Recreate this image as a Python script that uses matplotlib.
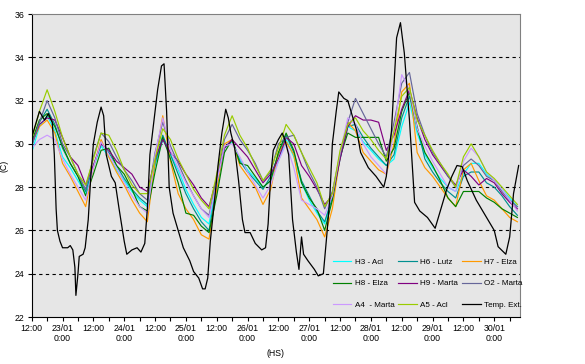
"""
Indoor / outdoor temperature log, 22/01 12:00 to 30/01
"""
import numpy as np
import matplotlib.pyplot as plt

plt.rcParams['font.family'] = ['Liberation Sans', 'DejaVu Sans']

# hours after 22/01 12:00, one reading every 3 h for the room sensors
hours = np.arange(0, 190, 3)

h3_acl = [29.6, 30.8, 31.3, 30.6, 29.4, 28.9, 28.3, 27.7, 28.9, 29.9, 29.4, 28.8, 28.3, 27.8, 27.4, 27.1,
          29.0, 30.2, 29.5, 28.8, 27.9, 27.2, 26.6, 26.3, 28.2, 29.8, 30.1, 29.3, 28.8, 28.4, 28.0, 28.3,
          29.2, 30.2, 29.4, 28.2, 27.4, 26.8, 26.3, 27.6, 29.4, 30.8, 30.6, 30.1, 29.7, 29.3, 29.0, 29.3,
          30.8, 31.9, 30.5, 29.5, 28.9, 28.4, 28.0, 27.8, 28.6, 29.1, 29.1, 28.6, 28.3, 27.9, 27.5, 27.1]
h6_lutz = [29.9, 31.0, 31.6, 30.9, 29.8, 29.1, 28.5, 27.8, 29.0, 30.0, 29.6, 29.0, 28.4, 27.9, 27.5, 27.2,
           29.1, 30.4, 29.5, 28.6, 27.7, 27.0, 26.4, 26.0, 28.0, 29.8, 30.2, 29.2, 28.7, 28.3, 27.9, 28.5,
           29.5, 30.4, 29.6, 28.3, 27.6, 26.9, 26.4, 27.5, 29.3, 30.8, 30.9, 30.3, 29.8, 29.4, 29.0, 29.5,
           31.2, 32.2, 30.8, 29.3, 28.7, 28.2, 27.8, 27.5, 28.5, 28.7, 28.7, 28.2, 28.0, 27.6, 27.1, 26.7]
h7_elza = [30.0, 30.8, 31.1, 30.5, 29.1, 28.5, 27.8, 27.1, 28.9, 30.2, 29.4, 28.7, 28.1, 27.4, 26.8, 26.4,
           29.2, 31.3, 29.2, 27.7, 27.0, 26.5, 25.8, 25.6, 27.9, 30.0, 30.2, 29.0, 28.5, 28.0, 27.2, 27.9,
           29.6, 30.1, 29.5, 27.5, 27.0, 26.5, 25.7, 27.0, 29.4, 31.0, 30.6, 29.6, 29.2, 28.8, 28.6, 30.0,
           32.4, 32.8, 29.6, 28.9, 28.5, 28.0, 27.5, 27.1, 28.8, 29.1, 28.3, 27.6, 27.4, 27.0, 26.6, 26.4]
h8_elza = [30.1, 31.1, 31.4, 30.8, 29.9, 29.1, 28.5, 27.6, 28.6, 29.7, 29.8, 29.0, 28.6, 27.9, 27.1, 26.9,
           28.7, 30.3, 29.3, 28.2, 26.8, 26.7, 26.2, 25.9, 27.6, 29.6, 30.2, 29.1, 29.0, 28.5, 28.0, 28.3,
           29.6, 30.5, 29.7, 28.2, 27.5, 27.0, 26.0, 27.4, 29.4, 30.5, 30.3, 30.3, 30.3, 30.3, 29.2, 29.8,
           31.5, 32.4, 30.7, 29.6, 29.0, 28.3, 27.5, 27.1, 27.8, 27.8, 27.8, 27.5, 27.3, 27.0, 26.8, 26.6]
h9_marta = [30.0, 30.9, 31.2, 31.1, 30.3, 29.4, 29.0, 28.1, 29.0, 30.0, 29.7, 29.2, 28.9, 28.6, 28.0, 27.8,
            29.3, 30.2, 29.6, 29.2, 28.6, 28.1, 27.5, 27.1, 28.4, 29.8, 30.2, 29.8, 29.4, 28.8, 28.2, 28.6,
            29.3, 30.3, 30.0, 29.0, 28.5, 27.9, 27.2, 27.6, 29.3, 30.8, 31.3, 31.1, 31.1, 31.0, 29.7, 30.4,
            31.6, 32.5, 31.2, 30.2, 29.5, 29.0, 28.5, 28.1, 28.8, 28.5, 28.1, 28.4, 28.2, 27.7, 27.3, 27.0]
o2_marta = [29.9, 31.0, 32.0, 31.2, 30.0, 29.4, 28.6, 27.9, 29.4, 30.5, 30.1, 29.4, 28.8, 28.3, 27.7, 27.4,
            29.6, 31.0, 29.9, 29.1, 28.3, 27.6, 27.0, 26.7, 28.4, 30.2, 30.9, 30.2, 29.7, 29.1, 28.3, 28.7,
            30.0, 30.3, 30.4, 29.6, 28.7, 28.0, 27.0, 27.8, 29.5, 31.0, 32.1, 31.4, 30.7, 30.0, 29.4, 31.0,
            32.8, 33.3, 31.4, 30.4, 29.6, 29.1, 28.5, 28.0, 29.0, 29.3, 29.0, 28.5, 28.3, 27.8, 27.4, 27.1]
a4_marta = [29.8, 30.2, 30.4, 30.2, 29.3, 28.6, 28.0, 27.4, 28.9, 30.1, 29.5, 28.9, 28.2, 27.6, 27.1, 26.8,
            29.5, 31.2, 29.7, 28.9, 28.2, 27.6, 27.0, 26.6, 28.2, 29.9, 30.0, 29.4, 28.7, 28.1, 27.5, 28.1,
            29.2, 30.0, 28.9, 27.4, 27.2, 27.0, 26.7, 27.6, 29.6, 31.2, 30.9, 30.0, 29.4, 29.0, 28.6, 30.6,
            33.2, 32.5, 30.7, 29.9, 29.2, 28.6, 28.0, 27.8, 29.2, 29.8, 29.4, 28.7, 28.3, 27.9, 27.4, 26.9]
a5_acl = [30.2, 31.5, 32.5, 31.5, 30.3, 29.4, 28.6, 28.1, 29.3, 30.5, 30.4, 29.7, 28.8, 28.1, 27.7, 27.7,
          29.3, 30.7, 30.2, 29.3, 28.6, 27.9, 27.4, 27.0, 28.6, 30.4, 31.3, 30.4, 29.8, 29.0, 28.3, 28.8,
          29.8, 30.9, 30.4, 29.6, 28.9, 28.2, 27.1, 27.7, 29.7, 30.9, 31.2, 30.6, 30.2, 29.7, 29.3, 30.6,
          32.2, 32.6, 31.1, 30.4, 29.7, 29.1, 28.6, 28.0, 29.4, 30.0, 29.4, 28.7, 28.4, 28.0, 27.6, 27.2]

# outside temperature, read at its turning points
ext_hours = [0, 3, 5, 6.5, 8, 8.8, 9.5, 10, 11, 12, 14, 15, 16, 16.8, 17.2, 17.6, 18, 18.5, 20, 20.8,
             22, 23, 24, 25.5, 27, 28, 29, 31, 32.5, 34, 36, 37, 39, 41, 42.5, 44, 45, 46, 47.5, 49,
             50.5, 51.5, 52.5, 53.5, 55, 57, 59, 61.5, 63, 65, 66.5, 67.5, 68.5, 69.5, 71, 72.5, 74, 75.5, 76.5, 77.5,
             79, 80.5, 82, 83, 85, 87, 89.5, 91, 92, 93, 94, 96, 97.5, 98.5, 100, 101.5, 103, 104, 105, 105.8,
             107.5, 110, 111.5, 113.5, 115, 116, 117, 118.5, 119.5, 121.5, 123, 125, 126.5, 128, 131, 134, 137, 138,
             140, 142, 143.5, 145, 147, 149, 151, 154, 157, 159, 161.5, 163.5, 165.5, 167.5, 169.5, 173, 177, 180,
             181.5, 184.5, 186, 187.5, 189.5]
temp_ext = [30.3, 31.5, 31.1, 31.4, 31.0, 29.5, 27.0, 26.0, 25.5, 25.2, 25.2, 25.3, 25.1, 24.3, 23.0, 23.5, 24.0, 24.8, 24.9, 25.2,
            26.5, 28.5, 30.0, 31.0, 31.7, 31.3, 29.5, 28.5, 28.2, 27.0, 25.5, 24.9, 25.1, 25.2, 25.0, 25.4, 27.0, 29.5, 31.0, 32.5,
            33.6, 33.7, 31.5, 28.0, 26.8, 26.0, 25.2, 24.6, 24.1, 23.8, 23.3, 23.3, 23.8, 25.5, 27.2, 29.0, 30.5, 31.6, 31.2, 30.5,
            29.8, 28.3, 26.5, 25.9, 25.9, 25.4, 25.1, 25.2, 26.3, 28.5, 29.7, 30.2, 30.5, 30.2, 29.5, 26.5, 25.0, 24.2, 25.7, 24.9,
            24.6, 24.2, 23.9, 24.0, 26.0, 27.5, 30.0, 31.5, 32.4, 32.1, 32.0, 31.2, 30.6, 29.6, 28.9, 28.5, 28.0, 28.5,
            30.6, 34.9, 35.6, 34.2, 31.1, 27.3, 26.9, 26.6, 26.1, 26.9, 27.9, 28.5, 29.0, 28.95, 28.3, 27.4, 26.6, 26.0,
            25.25, 24.9, 25.7, 27.7, 29.0]

series = [
    ("H3 - Acl", h3_acl, "#00FFFF"),
    ("H6 - Lutz", h6_lutz, "#009090"),
    ("H7 - Elza", h7_elza, "#FF9900"),
    ("H8 - Elza", h8_elza, "#008000"),
    ("H9 - Marta", h9_marta, "#800080"),
    ("O2 - Marta", o2_marta, "#666699"),
    ("A4  - Marta", a4_marta, "#CC99FF"),
    ("A5 - Acl", a5_acl, "#99CC00"),
]


def tick_labels(ticks):
    labels = []
    for h in ticks:
        if h % 24 == 0:
            labels.append("12:00")
        elif h % 24 == 12:
            day = 22 + (h + 12) // 24
            labels.append(f"{day:02d}/01\n0:00")
        else:
            labels.append("")
    return labels


def main():
    fig = plt.figure(figsize=(5.85, 3.64), dpi=100)
    ax = fig.add_axes([0.0542, 0.1291, 0.8346, 0.8324])
    ax.set_facecolor("#E6E6E6")

    for y in range(24, 36, 2):
        ax.axhline(y, color="black", lw=0.8, linestyle=(0, (3, 3)), zorder=0.5)

    handles = {}
    for name, vals, color in series:
        handles[name], = ax.plot(hours, vals, color=color, lw=0.85, label=name)
    handles["Temp. Ext."], = ax.plot(ext_hours, temp_ext, color="black", lw=0.9, label="Temp. Ext.")

    ax.set_xlim(0, 190)
    ax.set_ylim(22, 36)
    ax.set_yticks(range(22, 37, 2))

    ticks = list(range(0, 190, 6))
    ax.set_xticks(ticks)
    ax.set_xticklabels(tick_labels(ticks))
    ax.tick_params(direction="out", length=3, width=0.8, labelsize=6.3, pad=2)

    for side in ("top", "right"):
        ax.spines[side].set_color("#808080")
    for side in ("left", "bottom"):
        ax.spines[side].set_color("black")

    ax.set_ylabel("(C)", fontsize=6.3)
    ax.yaxis.set_label_coords(-0.047, 0.5)
    ax.set_xlabel("(HS)", fontsize=6.3, labelpad=4)

    # legend reads across rows, matplotlib fills columns
    order = ["H3 - Acl", "H8 - Elza", "A4  - Marta",
             "H6 - Lutz", "H9 - Marta", "A5 - Acl",
             "H7 - Elza", "O2 - Marta", "Temp. Ext."]
    ax.legend([handles[k] for k in order], order, ncol=3, frameon=False, fontsize=5.8,
              loc="lower left", bbox_to_anchor=(0.617, 0.026), borderaxespad=0, borderpad=0,
              handlelength=2.3, handletextpad=0.4, columnspacing=0.5, labelspacing=1.75)

    fig.savefig("out.png", dpi=100)


if __name__ == '__main__':
    main()
